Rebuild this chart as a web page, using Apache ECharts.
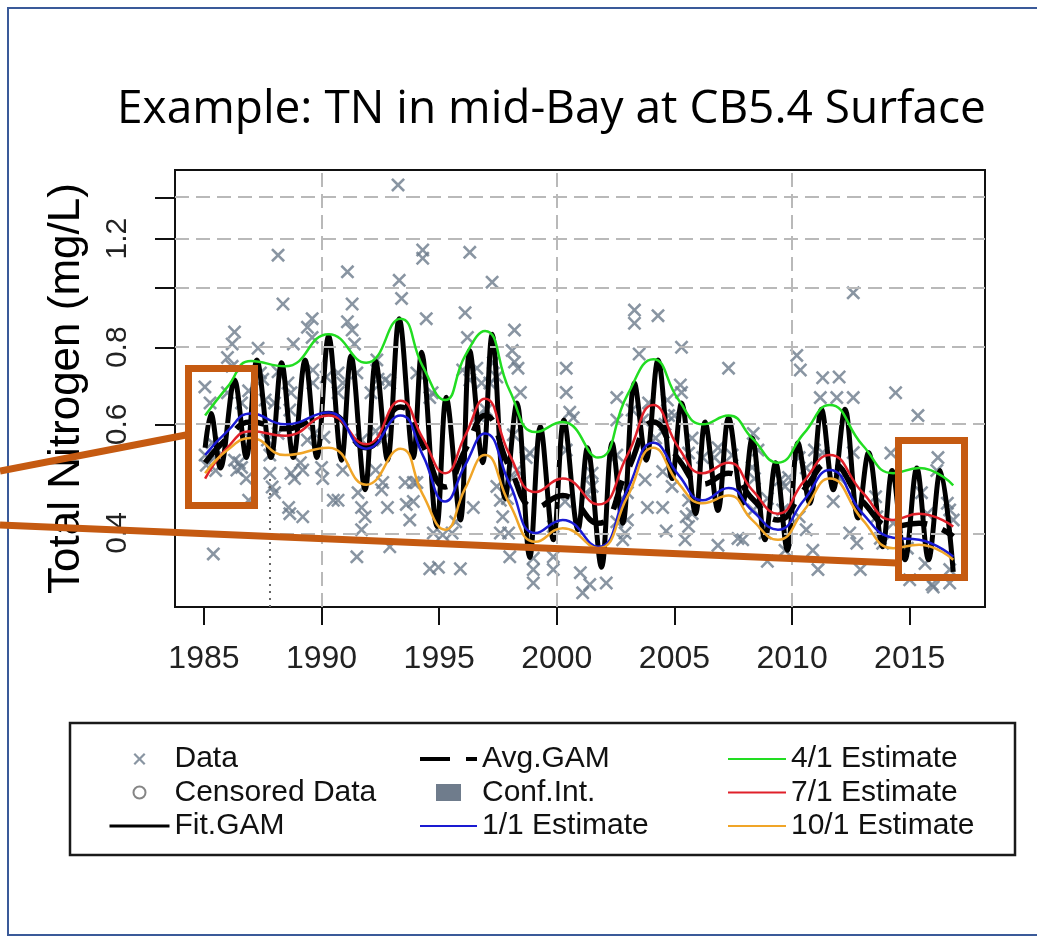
<!DOCTYPE html>
<html>
<head>
<meta charset="utf-8">
<script src="https://cdn.jsdelivr.net/npm/echarts@6/dist/echarts.min.js"></script>
<style>
html,body{margin:0;padding:0;background:#fff;}
#chart{width:1037px;height:938px;}
</style>
</head>
<body>
<div id="chart"></div>
<script>
// ---- data ----
const xTickYears = [1985, 1990, 1995, 2000, 2005, 2010, 2015];
const xGridYears = [1990, 2000, 2010];
const yTickValues = [0.4, 0.6, 0.8, 1.0, 1.2, 1.4];
const yLabelValues = [0.4, 0.6, 0.8, 1.2];

const estYears = [1985.05, 1986.0, 1987.0, 1988.45, 1990.3, 1991.9, 1993.35, 1994.3, 1995.25, 1996.1, 1996.95, 1998.0, 1999.1, 2000.25, 2001.75, 2003.0, 2004.1, 2005.2, 2006.2, 2007.3, 2008.3, 2009.4, 2010.5, 2011.6, 2013.0, 2014.3, 2015.4, 2016.85];
const est4_1  = [0.62, 0.69, 0.76, 0.745, 0.84, 0.755, 0.89, 0.745, 0.657, 0.775, 0.85, 0.68, 0.583, 0.605, 0.53, 0.67, 0.765, 0.655, 0.60, 0.62, 0.57, 0.52, 0.58, 0.645, 0.555, 0.50, 0.51, 0.478];
const est7_1  = [0.49, 0.55, 0.585, 0.575, 0.62, 0.557, 0.655, 0.57, 0.50, 0.575, 0.66, 0.535, 0.466, 0.49, 0.445, 0.535, 0.645, 0.548, 0.50, 0.52, 0.47, 0.43, 0.485, 0.535, 0.465, 0.42, 0.43, 0.41];
const est1_1  = [0.535, 0.585, 0.625, 0.60, 0.627, 0.548, 0.62, 0.535, 0.45, 0.515, 0.58, 0.48, 0.40, 0.42, 0.38, 0.47, 0.56, 0.495, 0.452, 0.473, 0.435, 0.405, 0.452, 0.506, 0.43, 0.393, 0.39, 0.366];
const est10_1 = [0.50, 0.545, 0.57, 0.535, 0.55, 0.479, 0.548, 0.462, 0.405, 0.472, 0.535, 0.445, 0.387, 0.407, 0.378, 0.458, 0.55, 0.48, 0.447, 0.46, 0.42, 0.39, 0.435, 0.49, 0.42, 0.378, 0.383, 0.362];
const avgGam  = [0.52, 0.57, 0.605, 0.59, 0.625, 0.55, 0.64, 0.555, 0.475, 0.545, 0.62, 0.51, 0.44, 0.46, 0.415, 0.505, 0.605, 0.525, 0.48, 0.5, 0.455, 0.42, 0.47, 0.52, 0.45, 0.41, 0.415, 0.395];
const ciLow   = [0.49, 0.535, 0.57, 0.555, 0.59, 0.52, 0.6, 0.52, 0.445, 0.51, 0.58, 0.48, 0.415, 0.435, 0.39, 0.475, 0.57, 0.495, 0.45, 0.47, 0.43, 0.395, 0.44, 0.49, 0.425, 0.385, 0.39, 0.37];
const ciHigh  = [0.57, 0.63, 0.67, 0.65, 0.68, 0.6, 0.70, 0.61, 0.525, 0.6, 0.68, 0.56, 0.485, 0.505, 0.46, 0.555, 0.665, 0.575, 0.53, 0.55, 0.505, 0.465, 0.52, 0.57, 0.5, 0.455, 0.46, 0.44];

const fitYears = [1985.05,1985.3,1985.7,1986.3,1986.8,1987.25,1987.85,1988.3,1988.8,1989.3,1989.8,1990.3,1990.85,1991.25,1991.85,1992.3,1992.8,1993.3,1993.9,1994.25,1994.9,1995.3,1995.9,1996.3,1996.85,1997.25,1997.8,1998.3,1998.85,1999.3,1999.85,2000.3,2000.9,2001.3,2001.9,2002.35,2002.8,2003.3,2003.8,2004.3,2004.9,2005.3,2005.9,2006.3,2006.85,2007.3,2007.9,2008.3,2008.85,2009.3,2009.8,2010.25,2010.75,2011.25,2011.75,2012.25,2012.8,2013.25,2013.85,2014.25,2014.8,2015.3,2015.8,2016.3,2016.85];
const fitGam = [0.55,0.625,0.51,0.708,0.53,0.763,0.53,0.755,0.53,0.763,0.53,0.835,0.525,0.775,0.47,0.76,0.525,0.89,0.53,0.785,0.41,0.664,0.42,0.79,0.52,0.84,0.455,0.65,0.365,0.595,0.39,0.61,0.405,0.55,0.352,0.56,0.415,0.70,0.525,0.763,0.49,0.65,0.43,0.605,0.435,0.615,0.447,0.57,0.39,0.52,0.375,0.56,0.447,0.635,0.47,0.635,0.423,0.54,0.38,0.505,0.362,0.51,0.362,0.505,0.346];

const obsData = [
[1985.04,0.69],[1985.26,0.65],[1985.35,0.56],[1985.05,0.535],[1985.45,0.53],[1985.4,0.37],[1985.1,0.515],[1985.5,0.505],
[1986.0,0.77],[1986.3,0.847],[1986.2,0.81],[1986.2,0.745],[1986.0,0.675],[1986.6,0.65],[1986.3,0.525],[1986.6,0.511],[1986.8,0.49],[1986.4,0.506],[1986.9,0.452],[1986.5,0.52],[1986.9,0.68],
[1987.3,0.797],[1987.4,0.727],[1987.5,0.71],[1987.6,0.657],[1987.0,0.566],[1987.7,0.566],[1987.9,0.475],[1987.8,0.5],[1987.8,0.535],
[1988.15,1.128],[1988.36,0.94],[1988.8,0.81],[1988.15,0.73],[1988.57,0.70],[1988.7,0.675],[1988.65,0.633],[1988.15,0.58],[1988.0,0.465],[1988.65,0.43],[1988.7,0.5],[1988.85,0.49],[1988.6,0.44],[1988.0,0.65],
[1989.6,0.89],[1989.4,0.862],[1989.6,0.83],[1989.63,0.735],[1989.63,0.70],[1989.4,0.566],[1989.7,0.58],[1989.2,0.425],[1989.2,0.506],[1989.1,0.52],
[1990.2,0.716],[1990.1,0.572],[1990.0,0.511],[1990.7,0.727],[1990.9,0.70],[1990.7,0.675],[1990.9,0.506],[1990.7,0.452],[1990.5,0.452],[1990.05,0.49],
[1991.3,0.94],[1991.1,0.88],[1991.3,0.853],[1991.4,0.81],[1991.1,1.06],[1991.5,0.727],[1991.7,0.566],[1991.55,0.465],[1991.7,0.44],[1991.85,0.425],[1991.7,0.405],[1991.5,0.366],
[1992.4,0.71],[1992.1,0.675],[1992.3,0.585],[1992.3,0.506],[1992.55,0.47],[1992.7,0.708],[1992.35,0.763],[1992.9,0.70],[1992.6,0.566],[1992.8,0.44],[1992.9,0.38],[1992.6,0.483],
[1993.25,1.466],[1993.3,1.027],[1993.4,0.96],[1993.6,0.445],[1993.75,0.42],[1993.9,0.45],[1993.55,0.483],[1993.9,0.483],
[1994.3,1.15],[1994.3,1.115],[1994.45,0.89],[1994.05,0.727],[1994.7,0.675],[1994.6,0.663],[1994.05,0.483],[1994.75,0.40],[1994.6,0.35],[1994.97,0.352],
[1995.15,0.397],[1995.55,0.40],[1995.7,0.417],[1995.9,0.35],
[1996.3,1.14],[1996.1,0.91],[1996.2,0.83],[1996.0,0.735],[1996.8,0.70],[1996.65,0.62],[1996.45,0.44],[1996.3,0.708],[1996.6,0.74],
[1997.25,1.02],[1997.3,0.755],[1997.45,0.716],[1997.15,0.70],[1997.0,0.633],[1997.9,0.455],[1997.7,0.425],[1997.6,0.40],[1997.45,0.476],[1997.95,0.40],[1997.6,0.452],
[1998.2,0.853],[1998.1,0.79],[1998.2,0.757],[1998.35,0.74],[1998.45,0.676],[1998.15,0.577],[1998.85,0.539],[1998.3,0.506],[1998.0,0.366],[1998.7,0.53],[1998.15,0.492],
[1999.0,0.364],[1999.0,0.349],[1999.0,0.332],[1999.85,0.366],[1999.85,0.349],[1999.85,0.41],
[2000.4,0.74],[2000.4,0.676],[2000.55,0.628],[2000.7,0.615],[2000.4,0.545],[2000.35,0.45],
[2001.3,0.462],[2001.0,0.345],[2001.1,0.32],[2001.4,0.33],[2001.5,0.50],[2001.5,0.476],
[2002.55,0.663],[2002.55,0.61],[2002.55,0.535],[2002.7,0.447],[2002.55,0.417],[2002.1,0.332],[2002.8,0.39],
[2003.3,0.919],[2003.3,0.875],[2003.5,0.78],[2003.2,0.633],[2003.65,0.61],[2003.75,0.488],[2003.85,0.44],[2003.0,0.42],[2003.0,0.465],[2002.9,0.40],[2003.9,0.65],
[2004.3,0.90],[2004.7,0.657],[2004.75,0.62],[2004.5,0.503],[2004.5,0.44],[2004.9,0.476],[2004.65,0.403],[2004.6,0.6],[2004.2,0.57],
[2005.3,0.80],[2005.25,0.695],[2005.3,0.676],[2005.0,0.62],[2005.75,0.57],[2005.6,0.539],[2005.6,0.452],[2005.75,0.43],[2005.6,0.41],[2005.45,0.39],[2005.5,0.425],
[2006.2,0.53],[2006.85,0.55],[2006.7,0.53],[2006.85,0.382],
[2007.3,0.74],[2007.45,0.535],[2007.7,0.392],[2007.9,0.39],
[2008.35,0.58],[2008.55,0.545],[2008.3,0.511],[2008.85,0.40],[2008.95,0.36],[2008.95,0.455],[2008.35,0.436],[2008.4,0.49],
[2009.85,0.492],[2009.7,0.476],[2009.6,0.436],[2009.5,0.488],[2009.7,0.375],
[2010.2,0.776],[2010.35,0.735],[2010.88,0.375],[2010.6,0.405],[2010.3,0.425],[2010.95,0.545],[2010.3,0.53],[2010.6,0.51],
[2011.3,0.714],[2011.2,0.663],[2011.9,0.663],[2011.1,0.349],[2011.3,0.54],[2011.75,0.45],
[2012.0,0.716],[2012.6,0.663],[2012.6,0.98],[2012.45,0.40],[2012.75,0.385],[2012.9,0.349],[2012.6,0.54],[2012.05,0.49],
[2013.6,0.425],[2013.75,0.392],[2013.55,0.458],[2013.85,0.385],
[2014.4,0.675],[2014.2,0.539],[2014.3,0.415],[2014.9,0.378],
[2015.35,0.62],[2015.0,0.336],[2015.95,0.33],[2015.65,0.357],[2015.5,0.465],[2015.75,0.43],
[2016.2,0.53],[2016.7,0.332],[2016.7,0.436],[2016.7,0.349],[2016.15,0.505],[2016.6,0.447],[2016.85,0.42],[2016.0,0.327]
];

// ---- chart ----
const L = Math.log;
const X_MIN = 1983.77, X_MAX = 2018.2;
const Y_MIN = L(0.3035), Y_MAX = L(1.55);
const pair = (xs, vs) => xs.map((x, i) => [x, L(vs[i])]);
const xMark = 'path://M1.3,0L5,3.7L8.7,0L10,1.3L6.3,5L10,8.7L8.7,10L5,6.3L1.3,10L0,8.7L3.7,5L0,1.3Z';
const FONT = 'Liberation Sans';

const lineSeries = (name, ys, vals, color, width, z, extra) => Object.assign({
  name, type: 'line', data: pair(ys, vals), smooth: 0.5, symbol: 'none', silent: true,
  lineStyle: { color, width }, itemStyle: { color }, z
}, extra || {});

const legendBase = (left, itemWidth, itemHeight, data) => ({
  left, top: 739, orient: 'vertical', itemWidth, itemHeight, itemGap: 3.5, selectedMode: false, symbolKeepAspect: true,
  textStyle: { fontFamily: FONT, fontSize: 30, color: '#111', lineHeight: 30 }, data
});

const option = {
  animation: false,
  backgroundColor: '#ffffff',
  title: {
    text: 'Example: TN in mid-Bay at CB5.4 Surface',
    left: 112, top: 80,
    textStyle: { fontFamily: 'Open Sans', fontSize: 46, fontWeight: 'normal', color: '#000', lineHeight: 50 }
  },
  grid: { left: 175, top: 170, width: 810, height: 437, show: true, borderColor: '#111', borderWidth: 2, backgroundColor: '#fff' },
  xAxis: {
    type: 'value', min: X_MIN, max: X_MAX,
    axisLine: { show: true, onZero: false, lineStyle: { color: '#111', width: 2 } },
    axisTick: { show: true, length: 18, lineStyle: { color: '#111', width: 2 }, customValues: xTickYears },
    axisLabel: { customValues: xTickYears, fontFamily: FONT, fontSize: 32, color: '#222', margin: 36, formatter: v => String(Math.round(v)) },
    splitLine: { show: false }
  },
  yAxis: {
    type: 'value', min: Y_MIN, max: Y_MAX,
    name: 'Total Nitrogen (mg/L)', nameLocation: 'middle', nameGap: 86, nameRotate: 90,
    nameTextStyle: { fontFamily: FONT, fontSize: 44, color: '#000' },
    axisLine: { show: true, onZero: false, lineStyle: { color: '#111', width: 2 } },
    axisTick: { show: true, length: 20, lineStyle: { color: '#111', width: 2 }, customValues: yTickValues.map(L) },
    axisLabel: { customValues: yLabelValues.map(L), rotate: 90, fontFamily: FONT, fontSize: 30, color: '#222', margin: 42,
      formatter: v => Math.exp(v).toFixed(1) },
    splitLine: { show: false }
  },
  legend: [
    legendBase(103, 60, 12, [ { name: 'Data' }, { name: 'Censored Data' }, { name: 'Fit.GAM', itemStyle: { opacity: 0 }, lineStyle: { width: 3 } } ]),
    legendBase(413, 57, 17, [ { name: 'Avg.GAM', itemStyle: { opacity: 0 }, lineStyle: { width: 4 } },
              { name: 'Conf.Int.', icon: 'path://M0,0L25,0L25,17L0,17Z', itemStyle: { color: '#6f7c8c', opacity: 1 } },
              { name: '1/1 Estimate', itemStyle: { opacity: 0 } } ]),
    legendBase(722, 58, 12, [ { name: '4/1 Estimate', itemStyle: { opacity: 0 } }, { name: '7/1 Estimate', itemStyle: { opacity: 0 } }, { name: '10/1 Estimate', itemStyle: { opacity: 0 } } ])
  ],
  series: [
    {
      name: 'ciLower', type: 'line', data: pair(estYears, ciLow), stack: 'ci', stackStrategy: 'all', smooth: 0.5, symbol: 'none', silent: true,
      lineStyle: { opacity: 0 }, z: 1,
      markLine: {
        silent: true, symbol: ['none', 'none'], label: { show: false }, animation: false,
        lineStyle: { color: '#b9b9b9', width: 2, type: [14, 7] },
        data: yTickValues.map(v => ({ yAxis: L(v) }))
          .concat(xGridYears.map(x => ({ xAxis: x })))
          .concat([[ { coord: [1987.8, Y_MIN], lineStyle: { color: '#666', width: 2, type: [2, 5] } }, { coord: [1987.8, L(0.49)] } ]])
      }
    },
    {
      name: 'Conf.Int.', type: 'line', data: estYears.map((x, i) => [x, L(ciHigh[i]) - L(ciLow[i])]), stack: 'ci', stackStrategy: 'all',
      smooth: 0.5, symbol: 'none', silent: true, lineStyle: { opacity: 0 }, itemStyle: { color: '#6f7c8c' },
      areaStyle: { color: 'rgba(140,140,140,0.5)' }, z: 2
    },
    {
      name: 'Data', type: 'scatter', data: obsData.map(d => [d[0], L(d[1])]), symbol: xMark, symbolSize: 14, silent: true,
      itemStyle: { color: '#6b7a8b' }, z: 3
    },
    { name: 'Censored Data', type: 'scatter', data: [], symbol: 'emptyCircle', itemStyle: { color: '#666' }, z: 3 },
    lineSeries('Fit.GAM', fitYears, fitGam, '#000', 5, 4, { smooth: 0.35 }),
    lineSeries('Avg.GAM', estYears, avgGam, '#000', 5, 5, { lineStyle: { color: '#000', width: 5.5, type: [30, 16] } }),
    lineSeries('4/1 Estimate', estYears, est4_1, '#22dd22', 2.5, 6),
    lineSeries('7/1 Estimate', estYears, est7_1, '#e0202a', 2.5, 6),
    lineSeries('1/1 Estimate', estYears, est1_1, '#1a1ad2', 2.5, 6),
    lineSeries('10/1 Estimate', estYears, est10_1, '#f0a528', 2.5, 6)
  ],
  graphic: [
    { type: 'rect', z: 100, shape: { x: 8, y: 8, width: 1100, height: 927 }, style: { fill: null, stroke: '#3a5a99', lineWidth: 2 }, silent: true },
    { type: 'rect', z: 100, shape: { x: 70, y: 723, width: 945, height: 132 }, style: { fill: null, stroke: '#1a1a1a', lineWidth: 2.5 }, silent: true },
    { type: 'rect', z: 101, shape: { x: 188.5, y: 368.5, width: 66, height: 137 }, style: { fill: null, stroke: '#c55a11', lineWidth: 7 }, silent: true },
    { type: 'rect', z: 101, shape: { x: 898.5, y: 440.5, width: 66, height: 137 }, style: { fill: null, stroke: '#c55a11', lineWidth: 7 }, silent: true },
    { type: 'line', z: 101, shape: { x1: 0, y1: 471, x2: 186, y2: 435 }, style: { stroke: '#c55a11', lineWidth: 7 }, silent: true },
    { type: 'line', z: 101, shape: { x1: 0, y1: 525, x2: 897, y2: 563 }, style: { stroke: '#c55a11', lineWidth: 7 }, silent: true }
  ]
};

const chart = echarts.init(document.getElementById('chart'), null, { renderer: 'canvas' });
chart.setOption(option);
</script>
</body>
</html>
